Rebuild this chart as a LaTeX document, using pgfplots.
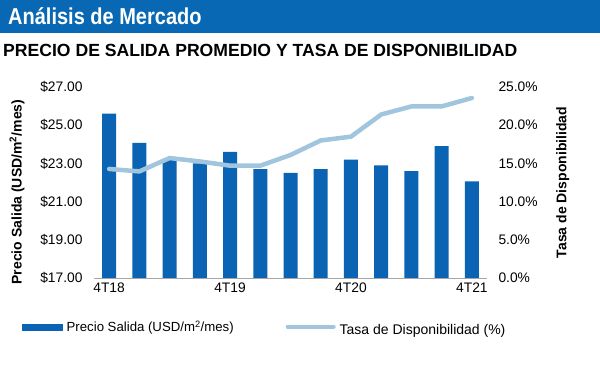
\documentclass[border=0pt]{standalone}
\usepackage{pgfplots}
\pgfplotsset{compat=1.18}
\usepackage{fontspec}
\setmainfont{Liberation Sans}
\definecolor{hdr}{HTML}{0868B4}
\definecolor{barc}{HTML}{0B63B3}
\definecolor{linec}{HTML}{A0C5DD}
\begin{document}
\begin{tikzpicture}[x=1pt,y=1pt]
\path[use as bounding box] (0,0) rectangle (600,369);
\fill[hdr] (0,369) rectangle (600,336);
\node[anchor=west, text=white, font=\bfseries\fontsize{20}{20}\selectfont, inner sep=0pt, yscale=1.15] at (8,352.5) {Análisis de Mercado};
\node[anchor=west, font=\bfseries\fontsize{17.6}{17.6}\selectfont, inner sep=0pt] at (3,319) {PRECIO DE SALIDA PROMEDIO Y TASA DE DISPONIBILIDAD};
\begin{axis}[at={(94pt,91pt)}, anchor=south west, scale only axis,
  width=393pt, height=191pt,
  xmin=-0.5, xmax=12.5, ymin=17, ymax=27,
  ytick={17,19,21,23,25,27},
  axis y line*=left, axis x line*=bottom,
  y axis line style={draw=none}, x axis line style={draw=gray!70, line width=0.8pt, -},
  xtick={0,4,8,12}, xticklabels={4T18,4T19,4T20,4T21},
  major tick length=0pt,
  /pgf/number format/assume math mode=true,
  yticklabel={\$\pgfmathprintnumber[fixed,fixed zerofill,precision=2]{\tick}},
  ticklabel style={font=\fontsize{13.8}{13.8}\selectfont},
  yticklabel style={xshift=-8pt},
  xticklabel style={yshift=-1pt},
  ylabel={Precio Salida (USD/m\textsuperscript{2}/mes)},
  ylabel style={font=\bfseries\fontsize{14}{14}\selectfont, at={(axis description cs:-0.196,0.45)}, anchor=center, rotate=0},
  clip=false]
\addplot[ybar, bar width=14pt, fill=barc, draw=none, bar shift=0pt] coordinates {
(0,25.6) (1,24.07) (2,23.2) (3,23.0) (4,23.6) (5,22.7) (6,22.5)
(7,22.7) (8,23.2) (9,22.9) (10,22.6) (11,23.9) (12,22.06)};
\end{axis}
\begin{axis}[at={(94pt,91pt)}, anchor=south west, scale only axis,
  width=393pt, height=191pt,
  xmin=-0.5, xmax=12.5, ymin=0, ymax=25,
  ytick={0,5,10,15,20,25},
  axis y line*=right, axis x line=none,
  y axis line style={draw=none},
  major tick length=0pt,
  /pgf/number format/assume math mode=true,
  yticklabel={\pgfmathprintnumber[fixed,fixed zerofill,precision=1]{\tick}\%},
  ticklabel style={font=\fontsize{13.8}{13.8}\selectfont},
  yticklabel style={xshift=8pt},
  ylabel={Tasa de Disponibilidad},
  ylabel style={font=\bfseries\fontsize{14}{14}\selectfont, at={(axis description cs:1.193,0.5)}, anchor=center, rotate=0},
  legend style={at={(axis description cs:-0.183,-0.262)}, anchor=west, draw=none, fill=none,
    legend columns=2,
    /tikz/every even column/.append style={column sep=48pt},
    nodes={inner xsep=4pt}, inner sep=0pt},
  legend cell align=left,
  clip=false]
\addlegendimage{legend image code/.code={\fill[barc] (0pt,-3pt) rectangle (40pt,3pt);}}
\addlegendentry[font=\fontsize{13.2}{13.2}\selectfont, xshift=4pt]{Precio Salida (USD/m\textsuperscript{2}/mes)}
\addplot[linec, line width=4.5pt, line join=round, line cap=round,
  legend image code/.code={\draw[linec, line width=4pt] (0pt,0pt) -- (46pt,0pt);}] coordinates {
(0,14.27) (1,13.95) (2,15.7) (3,15.26) (4,14.7) (5,14.7) (6,16.1)
(7,18.0) (8,18.5) (9,21.4) (10,22.46) (11,22.46) (12,23.56)};
\addlegendentry[font=\fontsize{14}{14}\selectfont, yshift=-3pt, xshift=-4pt]{Tasa de Disponibilidad (\%)}
\end{axis}
\end{tikzpicture}
\end{document}
